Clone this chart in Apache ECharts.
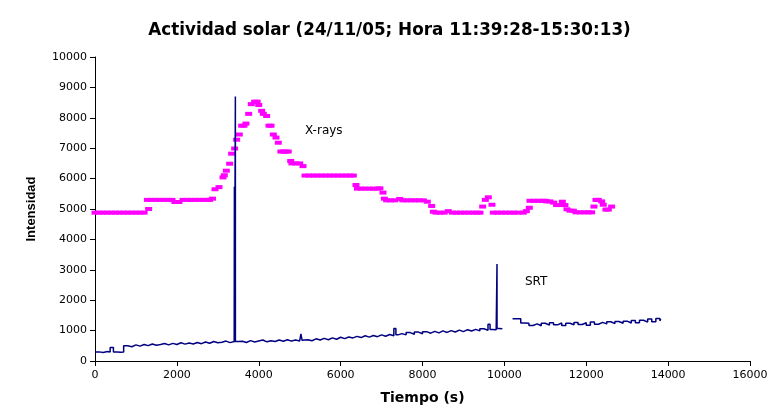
<!DOCTYPE html>
<html>
<head>
<meta charset="utf-8">
<script src="https://cdn.jsdelivr.net/npm/echarts@6/dist/echarts.min.js"></script>
<style>html,body{margin:0;padding:0;background:#fff}#c{width:779px;height:416px}</style>
</head>
<body>
<div id="c"></div>
<script>
var titleText = 'Actividad solar (24/11/05; Hora 11:39:28-15:30:13)';
var xName = 'Tiempo (s)';
var yName = 'Intensidad';
var xrayLabel = 'X-rays';
var srtLabel = 'SRT';

// X-rays: [time (s), intensity]
var xrays = [
[0,4880],[100,4880],[200,4880],[300,4880],[400,4880],[500,4880],[600,4880],[700,4880],[800,4880],[900,4880],[1000,4880],[1100,4880],[1200,4880],
[1280,5300],[1310,5000],
[1380,5300],[1480,5300],[1580,5300],[1680,5300],[1780,5300],[1880,5300],[1950,5230],[2050,5230],[2150,5300],[2250,5300],[2350,5300],[2450,5300],[2550,5300],[2650,5300],[2750,5300],[2800,5300],[2870,5340],
[2931,5650],[3029,5720],[3127,6040],[3159,6110],[3208,6260],[3289,6490],[3338,6820],[3411,6990],[3460,7280],[3525,7450],[3582,7740],[3640,7740],[3688,7810],[3754,8130],[3818,8450],[3900,8530],[3960,8530],[4000,8420],[4071,8230],[4112,8130],[4193,8060],[4250,7740],[4300,7740],[4356,7450],[4421,7350],[4478,7180],[4540,6890],[4600,6890],[4660,6890],[4720,6890],[4780,6580],[4810,6500],[4900,6500],[5000,6500],[5081,6410],
[5130,6100],[5230,6100],[5330,6100],[5430,6100],[5530,6100],[5630,6100],[5730,6100],[5830,6100],[5930,6100],[6030,6100],[6130,6100],[6230,6100],[6310,6100],
[6375,5790],[6410,5670],[6500,5670],[6600,5670],[6700,5670],[6800,5670],[6900,5670],[6960,5680],[7035,5540],[7068,5340],
[7124,5285],[7220,5285],[7320,5285],[7442,5330],[7520,5285],[7620,5285],[7720,5285],[7820,5285],[7920,5285],[8020,5285],[8117,5240],[8224,5100],[8265,4910],
[8330,4880],[8430,4880],[8530,4880],[8630,4930],[8730,4880],[8830,4880],[8930,4880],[9030,4880],[9130,4880],[9230,4880],[9330,4880],[9404,4880],
[9470,5080],[9535,5300],[9608,5385],[9697,5140],
[9730,4880],[9830,4880],[9930,4880],[10030,4880],[10130,4880],[10230,4880],[10330,4880],[10463,4880],[10536,4930],[10609,5040],
[10625,5270],[10725,5270],[10825,5270],[10925,5270],[10992,5270],[11033,5250],[11114,5250],[11203,5210],[11277,5130],[11380,5130],[11416,5240],[11480,5130],[11529,4990],[11602,4945],[11684,4945],
[11749,4890],[11850,4890],[11950,4890],[12050,4890],[12131,4890],[12188,5080],[12237,5300],[12294,5300],[12376,5250],[12416,5140],[12481,4980],[12538,4980],[12620,5080]
];

// SRT: [time (s), intensity]; null breaks the line
var srt = [
[0,300],[100,280],[200,310],[300,295],[370,440],[450,300],[550,290],[630,300],
[700,500],[800,470],[900,530],[1000,490],[1100,545],[1200,505],[1300,560],[1400,520],[1500,540],[1600,575],[1700,530],[1800,580],[1900,545],[2000,600],[2100,555],[2200,590],[2300,560],
[2400,610],[2500,570],[2600,625],[2700,585],[2800,640],[2900,600],[3000,620],[3100,655],[3200,605],[3300,640],[3400,615],
[3404,620],[3405,5730],[3406,620],[3428,620],[3429,8700],[3430,640],
[3500,650],[3600,610],[3700,670],[3800,625],[3900,660],[4000,690],[4100,630],[4200,665],[4300,640],[4400,690],[4500,650],[4600,700],[4700,655],[4800,690],[4900,660],[5000,670],[5030,890],[5060,680],
[5100,700],[5200,665],[5300,730],[5400,690],[5500,745],[5600,700],[5700,760],[5800,715],[5900,780],[6000,735],[6100,790],
[6200,760],[6300,810],[6400,770],[6500,830],[6600,785],[6700,840],[6800,800],[6900,860],[7000,815],[7100,870],[7200,830],[7300,1070],[7350,860],
[7400,900],[7500,860],[7600,935],[7700,880],[7800,950],[7900,895],[8000,965],[8100,915],[8200,975],[8300,925],[8400,990],[8500,940],[8600,1000],[8700,955],[8800,1015],[8900,965],[9000,1030],[9100,985],[9200,1040],[9300,990],[9400,1060],[9500,1010],
[9600,1210],[9650,1040],[9700,1030],[9800,1070],[9819,1060],[9820,3190],[9821,1070],[9870,1060],
[9950,null],
[10200,1390],[10300,1390],[10400,1250],[10500,1240],[10600,1170],[10700,1220],[10800,1160],[10900,1240],[11000,1180],[11100,1260],[11200,1190],[11300,1250],[11400,1170],[11500,1240],[11600,1190],[11700,1270],[11800,1200],[11900,1260],[12000,1180],[12100,1280],[12200,1210],[12300,1270],[12400,1220],[12500,1290],[12600,1230],[12700,1300],[12800,1240],[12900,1310],[13000,1250],[13100,1330],[13200,1260],[13300,1340],[13400,1280],[13500,1380],[13600,1290],[13700,1400],[13800,1320],[13820,1380]
];

var FONT = '"Liberation Sans", Arial, sans-serif';
var WIDE = '"DejaVu Sans", Verdana, sans-serif';
var chart = echarts.init(document.getElementById('c'), null, {renderer: 'canvas'});
chart.setOption({
  animation: false,
  backgroundColor: '#ffffff',
  title: {
    text: titleText, left: 'center', top: 17,
    textStyle: {fontFamily: WIDE, fontSize: 16.8, fontWeight: 'bold', color: '#000'}
  },
  grid: {left: 95, right: 29, top: 57, bottom: 55, containLabel: false},
  xAxis: {
    type: 'value', min: 0, max: 16000, interval: 2000,
    name: xName, nameLocation: 'middle', nameGap: 30,
    nameTextStyle: {fontFamily: WIDE, fontSize: 14, fontWeight: 'bold', color: '#000'},
    axisLine: {show: true, lineStyle: {color: '#000', width: 1}},
    axisTick: {show: true, inside: false, length: 5, lineStyle: {color: '#000'}},
    axisLabel: {fontFamily: WIDE, fontSize: 11, color: '#000', margin: 9, formatter: function (v) { return String(v); }},
    splitLine: {show: false}
  },
  yAxis: {
    type: 'value', min: 0, max: 10000, interval: 1000,
    name: yName, nameLocation: 'middle', nameGap: 57,
    nameTextStyle: {fontFamily: FONT, fontSize: 13, fontWeight: 'bold', color: '#000'},
    axisLine: {show: true, lineStyle: {color: '#000', width: 1}},
    axisTick: {show: true, inside: false, length: 5, lineStyle: {color: '#000'}},
    axisLabel: {fontFamily: WIDE, fontSize: 11, color: '#000', margin: 8, formatter: function (v) { return String(v); }},
    splitLine: {show: false}
  },
  series: [
    {
      name: 'SRT', type: 'line', data: srt, step: 'end', showSymbol: false,
      connectNulls: false,
      lineStyle: {color: '#000080', width: 1.5},
      itemStyle: {color: '#000080'}, z: 3
    },
    {
      name: 'X-rays', type: 'scatter', data: xrays,
      symbol: 'rect', symbolSize: [7, 4],
      itemStyle: {color: '#ff00ff', opacity: 1}, z: 2
    }
  ],
  graphic: [
    {type: 'text', left: 305, top: 125, style: {text: xrayLabel, fontFamily: WIDE, fontSize: 12, fill: '#000'}},
    {type: 'text', left: 525, top: 276, style: {text: srtLabel, fontFamily: WIDE, fontSize: 12, fill: '#000'}}
  ]
});
</script>
</body>
</html>
